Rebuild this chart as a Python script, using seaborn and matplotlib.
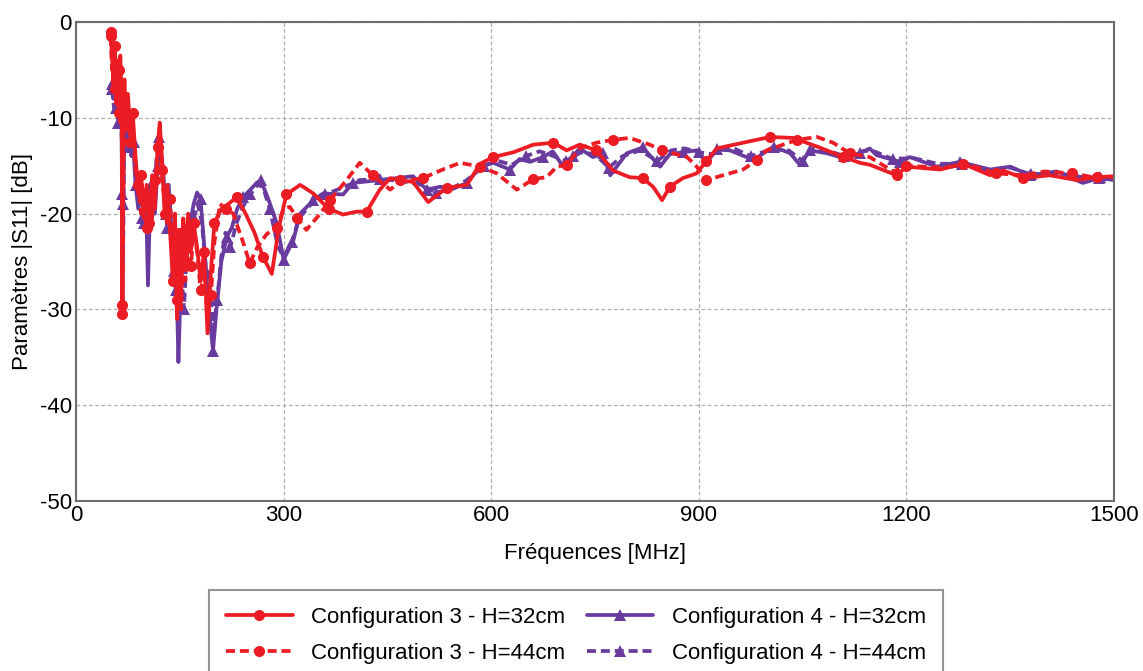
import numpy as np
import pandas as pd
import matplotlib
matplotlib.use("Agg")
import matplotlib.pyplot as plt
import seaborn as sns

# ---------------- data ----------------
c3_h32_f = [50, 52, 54, 56, 58, 60, 62, 64, 66, 67, 68, 70, 72, 75, 78, 82, 86, 90, 94, 98,
            102, 106, 110, 114, 118, 121, 124, 128, 132, 136, 140, 143, 146, 149, 152, 155, 158,
            162, 166, 170, 175, 180, 185, 190, 195, 200, 210, 220, 232, 245, 258, 270, 283, 293,
            304, 324, 343, 365, 386, 405, 420, 439, 454, 468, 487, 509, 536, 565, 584, 603, 632,
            661, 690, 709, 728, 752, 776, 800, 819, 834, 847, 858, 877, 897, 911, 926, 964, 1003,
            1036, 1071, 1109, 1133, 1147, 1186, 1200, 1249, 1282, 1321, 1340, 1369, 1407, 1446,
            1475, 1500]
c3_h32_db = [-1.0, -3.5, -6.5, -2.5, -8.5, -4.0, -9.5, -3.5, -8.0, -30.5, -12, -6.0, -10.5, -7.5,
             -11, -9.5, -14, -18, -16, -20.5, -17, -21, -16, -19.5, -13, -10.5, -14, -20, -17, -22,
             -27, -20, -31, -22, -28, -20.5, -25, -20, -24, -21, -23.5, -27, -24, -32.5, -26, -21,
             -19.5, -19, -18.3, -20, -22, -24.5, -26.3, -21.5, -18, -17, -17.9, -19.5, -20.1,
             -19.8, -19.8, -17.5, -16.3, -16.5, -16.7, -18.8, -17.3, -17, -14.8, -14.1, -13.6,
             -12.8, -12.6, -13.4, -12.8, -13.4, -15.5, -16.2, -16.3, -17.2, -18.6, -17.2, -16.3,
             -15.8, -14.5, -13.2, -12.6, -12, -12.1, -13, -14.1, -14.7, -14.9, -16, -15.1, -15.4,
             -14.8, -16, -15.5, -16.3, -16, -16.5, -16.2, -16.1]

c3_h44_f = [50, 52, 54, 56, 58, 60, 62, 64, 66, 67, 68, 69, 70, 72, 75, 78, 82, 86, 90, 94, 98,
            102, 106, 110, 114, 118, 121, 124, 128, 132, 136, 140, 143, 146, 149, 152, 155, 158,
            162, 166, 170, 175, 180, 185, 190, 195, 200, 208, 217, 227, 242, 251, 262, 276, 290,
            300, 309, 320, 333, 353, 367, 391, 410, 429, 454, 468, 501, 530, 555, 584, 608, 637,
            661, 680, 695, 709, 728, 752, 776, 800, 829, 847, 883, 897, 911, 935, 964, 984, 998,
            1022, 1042, 1071, 1094, 1118, 1147, 1181, 1200, 1250, 1290, 1330, 1370, 1400, 1440,
            1470, 1500]
c3_h44_db = [-1.5, -5, -2.5, -7, -4, -9, -5, -10.5, -6, -29.5, -22, -14, -8, -11.5, -9, -12.5,
             -11, -15.5, -17, -20, -17.5, -21.5, -18, -20.5, -16.5, -14, -11, -15.5, -19, -21,
             -18.5, -26, -21.5, -29, -24, -30, -22, -27, -22.5, -25.5, -22, -24, -28, -26.5, -30.5,
             -28.5, -23, -19, -19.5, -20, -23.1, -25.2, -23.5, -22.1, -21.5, -19.5, -19.3, -20.5,
             -21.7, -20, -18.6, -16.5, -14.7, -16, -17.5, -16.7, -16.3, -15.4, -14.7, -15.1,
             -15.8, -17.5, -16.4, -16.2, -15.1, -14.9, -13.2, -12.6, -12.3, -12.1, -12.8, -13.4,
             -14.1, -15.1, -16.5, -16, -15.4, -14.4, -13.4, -12.8, -12.3, -12, -12.6, -13.7,
             -14.1, -15.6, -15, -15.2, -14.9, -15.8, -16, -15.6, -15.8, -16.2, -16.2]

c4_h32_f = [52, 54, 56, 58, 60, 62, 64, 66, 67, 68, 70, 72, 75, 78, 82, 86, 90, 94, 98, 101, 104,
            107, 110, 114, 118, 122, 126, 130, 134, 138, 141, 144, 148, 151, 155, 160, 165, 170,
            175, 180, 186, 192, 198, 203, 210, 218, 225, 233, 241, 252, 261, 267, 278, 290, 300,
            314, 324, 343, 357, 386, 400, 439, 487, 507, 526, 545, 565, 584, 603, 627, 641, 656,
            675, 689, 704, 718, 728, 747, 761, 772, 796, 819, 844, 858, 877, 897, 911, 926, 945,
            979, 1008, 1032, 1046, 1061, 1085, 1109, 1133, 1147, 1157, 1191, 1205, 1244, 1277,
            1321, 1350, 1379, 1417, 1455, 1479, 1500]
c4_h32_db = [-6.5, -8, -5, -9, -6, -10, -7, -11, -30, -19, -9, -12, -10, -13.5, -12, -17, -19.5,
             -17, -21, -18, -27.5, -19, -17.5, -20, -15, -13, -15.5, -20, -17, -22, -26, -23,
             -35.5, -28, -24, -23, -21, -19, -17.8, -18.5, -24, -30, -34.3, -30, -25, -22.4,
             -21.5, -19.5, -18.3, -17.5, -16.8, -16.5, -18.5, -21, -24.8, -22.8, -20, -18.6,
             -17.9, -18, -16.8, -16.5, -16.1, -17.5, -17.2, -17.4, -16.8, -15.1, -14.7, -15.4,
             -14.3, -14.6, -14.1, -13.5, -15.1, -14, -13.2, -14.1, -13.7, -16, -13.7, -13.1,
             -15.1, -13.8, -13.6, -13.4, -14.7, -13.3, -13.4, -14.4, -13, -13.7, -14.9, -13.4,
             -13.7, -14.2, -13.7, -13.2, -13.9, -14.6, -14.1, -15.1, -14.6, -15.4, -15.1, -16,
             -15.6, -16.8, -16.3, -16.5]

c4_h44_f = [52, 55, 58, 61, 64, 66, 67, 68, 70, 73, 76, 80, 84, 88, 92, 96, 100, 104, 108, 112,
            116, 120, 124, 128, 132, 136, 140, 144, 148, 152, 156, 160, 165, 170, 176, 182, 188,
            194, 199, 204, 210, 216, 223, 232, 241, 252, 262, 270, 280, 292, 300, 312, 322, 340,
            360, 385, 410, 440, 470, 500, 520, 540, 565, 590, 610, 630, 650, 670, 690, 708, 730,
            750, 770, 790, 815, 840, 860, 880, 900, 920, 945, 975, 1005, 1030, 1050, 1065, 1090,
            1110, 1135, 1150, 1180, 1210, 1245, 1280, 1320, 1350, 1380, 1420, 1455, 1480, 1500]
c4_h44_db = [-7, -9, -6.5, -10.5, -8, -12, -18, -25, -10, -13, -11, -14, -12.5, -18, -16, -20.5,
             -18, -22, -17, -20, -14.5, -12, -16, -18.5, -21.5, -19, -24, -28, -32, -26, -30, -24,
             -22, -20.5, -19, -21, -26, -28.3, -32, -29, -24.5, -22, -23.5, -21, -19.3, -18, -17,
             -17.2, -19.5, -23.5, -24.5, -23, -20.5, -19, -18, -17.3, -16.5, -16.4, -16.6, -17,
             -17.8, -17.5, -16.5, -15, -14.5, -14.9, -14, -13.5, -14, -14.5, -13.6, -13.8, -15.2,
             -14, -13.4, -14.5, -13.4, -13.2, -13.6, -13.8, -13, -14, -13.3, -13.4, -14.5, -13.2,
             -13.5, -14, -13.5, -13.4, -14.3, -14.2, -14.8, -14.8, -15.6, -15.2, -15.9, -15.8,
             -16.2, -16.2, -16.4]

labels = ["Configuration 3 - H=32cm", "Configuration 3 - H=44cm",
          "Configuration 4 - H=32cm", "Configuration 4 - H=44cm"]
x_ticks = [0, 300, 600, 900, 1200, 1500]
y_ticks = [0, -10, -20, -30, -40, -50]

# ---------------- styling ----------------
sns.set_theme(style="white")
plt.rcParams["font.family"] = ["Liberation Sans", "DejaVu Sans"]
plt.rcParams["axes.unicode_minus"] = False

RED = "#EC1C24"
PURPLE = "#6A3B9E"
DASH = (0, (2.4, 1.3))

fig = plt.figure(figsize=(11.43, 6.71), dpi=100)
ax = fig.add_axes([0.0665, 0.2534, 0.9081, 0.7138])

series = [
    (c4_h32_f, c4_h32_db, labels[2], PURPLE, "-", "^"),
    (c4_h44_f, c4_h44_db, labels[3], PURPLE, DASH, "^"),
    (c3_h44_f, c3_h44_db, labels[1], RED, DASH, "o"),
    (c3_h32_f, c3_h32_db, labels[0], RED, "-", "o"),
]
handles = {}
for f, v, lab, col, ls, mk in series:
    sns.lineplot(x=f, y=v, ax=ax, color=col, linestyle=ls, linewidth=2.7,
                 marker=mk, markersize=8, markeredgewidth=0, markevery=3,
                 sort=False, estimator=None, label=lab)
    handles[lab] = ax.get_lines()[-1]

ax.set_xlim(0, 1500)
ax.set_ylim(-50, 0)
ax.set_xticks(x_ticks)
ax.set_yticks(y_ticks)
ax.tick_params(axis="both", labelsize=16, length=0, pad=3, colors="black")
ax.grid(True, color="#b0b0b0", linestyle=(0, (3, 2)), linewidth=0.9)
for s in ax.spines.values():
    s.set_color("#6e6e6e")
    s.set_linewidth(1.5)

ax.set_xlabel("Fréquences [MHz]", fontsize=16, labelpad=12, color="black")
ax.set_ylabel("Paramètres |S11| [dB]", fontsize=16, labelpad=5, color="black")

if ax.get_legend() is not None:
    ax.get_legend().remove()
order = [labels[0], labels[1], labels[2], labels[3]]
leg = fig.legend([handles[l] for l in order], order, ncol=2, loc="upper center",
                 bbox_to_anchor=(0.504, 0.12), fontsize=16, frameon=True, fancybox=False,
                 handlelength=3.0, handletextpad=0.85, columnspacing=0.95,
                 labelspacing=0.68, borderpad=0.75, borderaxespad=0, numpoints=1)
for t in leg.get_texts():
    t.set_color("black")
leg.get_frame().set_edgecolor("#7a7a7a")
leg.get_frame().set_linewidth(1.5)

fig.savefig("out.png", dpi=100)
